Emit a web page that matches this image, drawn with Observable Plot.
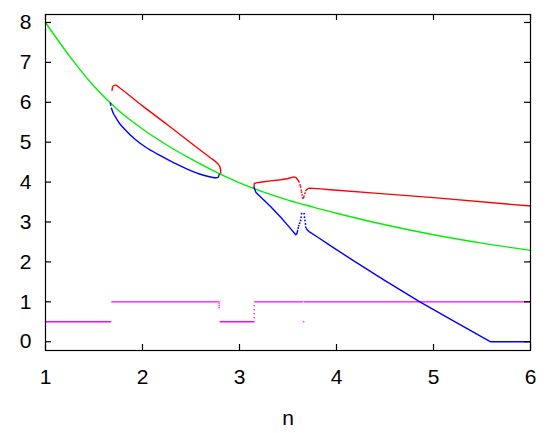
<!DOCTYPE html>
<html><head><meta charset="utf-8">
<script src="https://cdn.jsdelivr.net/npm/d3@7"></script>
<script src="https://cdn.jsdelivr.net/npm/@observablehq/plot@0.6"></script>
<style>body{margin:0;background:#fff}</style>
</head><body><div id="chart"></div>
<script>
// tick values
const xTicks = [1, 2, 3, 4, 5, 6];
const yTicks = [0, 1, 2, 3, 4, 5, 6, 7, 8];
const xLabel = "n";

// green curve
const green = [[1,8.0],[1.25,7.15],[1.5,6.4],[1.75,5.8],[2,5.33],[2.25,4.93],[2.5,4.58],[2.75,4.26],[3,3.98],[3.25,3.75],[3.5,3.55],[3.75,3.38],[4,3.22],[4.5,2.93],[5,2.68],[5.5,2.47],[6,2.29]];

// red branches
const red1 = [[1.686,6.30],[1.692,6.38],[1.705,6.42],[1.722,6.43],[1.75,6.39],[2.0,5.91],[2.25,5.45],[2.5,4.98],[2.7,4.61],[2.754,4.51],[2.78,4.45],[2.80,4.37],[2.806,4.21]];
const red2 = [[3.15,3.88],[3.152,3.96],[3.17,3.98],[3.25,4.01],[3.32,4.03],[3.425,4.06],[3.5,4.09],[3.56,4.13],[3.58,4.12],[3.60,4.06],[3.615,4.0]];
const redDots = [[3.625,3.93],[3.63,3.88],[3.637,3.80],[3.64,3.75],[3.645,3.68],[3.65,3.60],[3.66,3.61],[3.665,3.65],[3.675,3.72]];
const red3 = [[3.683,3.79],[3.70,3.83],[3.72,3.85],[3.84,3.83],[3.94,3.81],[4.46,3.71],[5,3.61],[6,3.40]];

// blue branches
const blue1 = [[1.68,5.85],[1.70,5.72],[1.73,5.60],[1.77,5.45],[1.826,5.30],[1.92,5.08],[2.03,4.88],[2.17,4.68],[2.31,4.50],[2.45,4.34],[2.58,4.21],[2.68,4.14],[2.754,4.11],[2.78,4.12],[2.79,4.19]];
const blue2 = [[3.15,3.87],[3.16,3.80],[3.17,3.74],[3.32,3.39],[3.425,3.12],[3.5,2.91],[3.58,2.68],[3.59,2.70],[3.60,2.79]];
const blueDots = [[1.67,5.97],[1.672,5.93],[3.605,2.85],[3.61,2.91],[3.62,2.97],[3.63,3.04],[3.635,3.12],[3.64,3.21],[3.666,3.21],[3.67,3.12],[3.675,3.04],[3.68,2.95],[3.683,2.87]];
const blue3 = [[3.69,2.83],[3.70,2.80],[3.717,2.76],[3.8,2.63],[3.94,2.40],[4.17,2.04],[4.5,1.53],[4.86,1.0],[5.2,0.53],[5.585,0.0],[6,0.0]];

// magenta steps
const mag1 = [[1,0.5],[1.672,0.5]];
const mag2 = [[1.683,1],[2.79,1]];
const mag3 = [[2.80,0.5],[3.15,0.5]];
const mag4 = [[3.155,1],[3.655,1]];
const mag5 = [[3.67,1],[6,1]];
const magDots = [[2.79,0.95],[2.79,0.9],[2.79,0.85],[3.152,0.6],[3.152,0.7],[3.152,0.8],[3.152,0.9],[3.662,0.5]];

const rows = (pts, seg) => pts.map(([n, v]) => ({n, v, seg}));
const segs = (list) => list.flatMap((pts, i) => rows(pts, i));

const RED = "#ff0000", GREEN = "#00ee00", BLUE = "#0000ff", MAG = "#ff00ff";

const W = 550, H = 433, mT = 14, mR = 20, mB = 83, mL = 45, TICK = 6;
const innerW = W - mL - mR, innerH = H - mT - mB;
const FS = 21;

const chart = Plot.plot({
  width: W, height: H,
  marginTop: mT, marginRight: mR, marginBottom: mB, marginLeft: mL,
  style: {fontFamily: "'Liberation Sans', Arial, sans-serif", fontSize: FS + "px", background: "#fff", color: "#000", overflow: "visible"},
  x: {domain: [1, 6]},
  y: {domain: [-0.22, 8.2]},
  marks: [
    Plot.line(segs([mag1, mag2, mag3, mag4, mag5]), {x: "n", y: "v", z: "seg", stroke: MAG, strokeWidth: 1.3}),
    Plot.dot(rows(magDots, 0), {x: "n", y: "v", r: 0.8, fill: MAG, stroke: "none"}),
    Plot.line(segs([red1]), {x: "n", y: "v", z: "seg", stroke: RED, strokeWidth: 1.4, curve: "catmull-rom"}),
    Plot.line(segs([red2, red3]), {x: "n", y: "v", z: "seg", stroke: RED, strokeWidth: 1.4}),
    Plot.dot(rows(redDots, 0), {x: "n", y: "v", r: 0.9, fill: RED, stroke: "none"}),
    Plot.line(rows(green, 0), {x: "n", y: "v", stroke: GREEN, strokeWidth: 1.4, curve: "catmull-rom"}),
    Plot.line(segs([blue1]), {x: "n", y: "v", z: "seg", stroke: BLUE, strokeWidth: 1.4, curve: "catmull-rom"}),
    Plot.line(segs([blue2, blue3]), {x: "n", y: "v", z: "seg", stroke: BLUE, strokeWidth: 1.4}),
    Plot.dot(rows(blueDots, 0), {x: "n", y: "v", r: 0.9, fill: BLUE, stroke: "none"}),
    Plot.frame({stroke: "#000", strokeWidth: 1.2}),
    // inward tick marks on all four sides
    Plot.tickX(xTicks, {x: d => d, stroke: "#000", strokeWidth: 1.2, insetTop: innerH - TICK}),
    Plot.tickX(xTicks, {x: d => d, stroke: "#000", strokeWidth: 1.2, insetBottom: innerH - TICK}),
    Plot.tickY(yTicks, {y: d => d, stroke: "#000", strokeWidth: 1.2, insetRight: innerW - TICK}),
    Plot.tickY(yTicks, {y: d => d, stroke: "#000", strokeWidth: 1.2, insetLeft: innerW - TICK}),
    Plot.axisX({ticks: xTicks, tickSize: 0, tickPadding: 19, fontSize: FS, tickFormat: d => String(d), label: xLabel, labelAnchor: "center", labelArrow: "none", labelOffset: 74}),
    Plot.axisY({ticks: yTicks, tickSize: 0, tickPadding: 14, fontSize: FS, tickFormat: d => String(d), label: null})
  ]
});
document.getElementById("chart").appendChild(chart);
</script>
</body></html>
